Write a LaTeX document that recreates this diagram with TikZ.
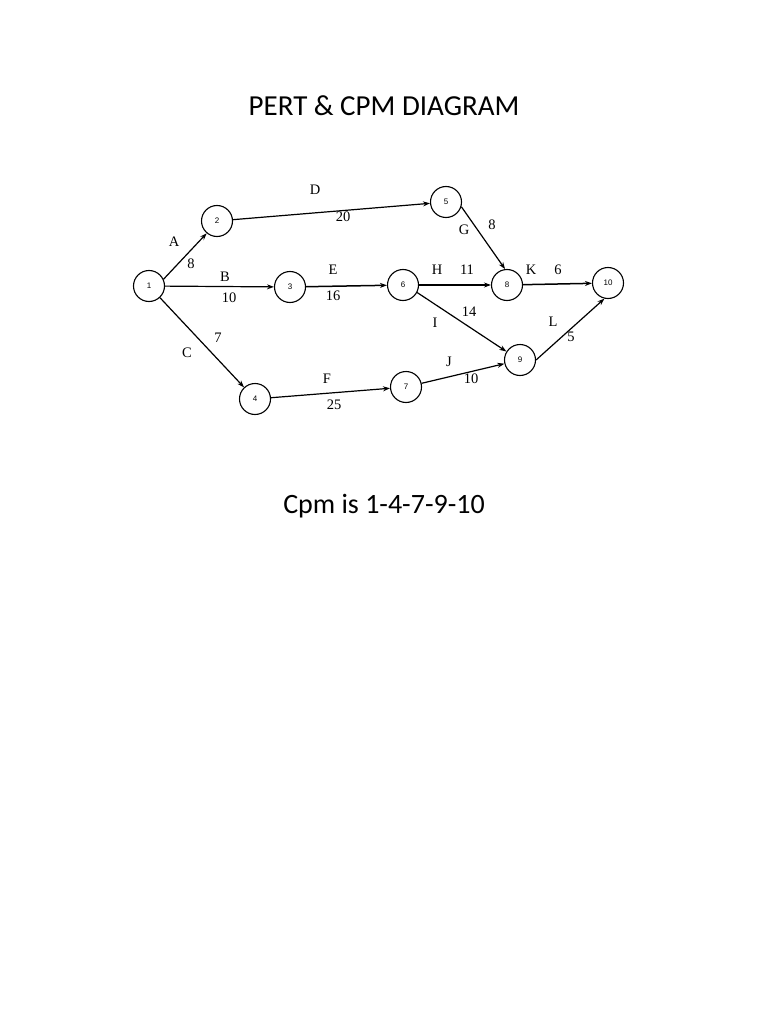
\documentclass[tikz,border=0pt]{standalone}
\usepackage{fontspec}
\setmainfont{Liberation Serif}
\newfontfamily\titlefont{Carlito}
\newfontfamily\numfont{Liberation Sans}
\usetikzlibrary{arrows.meta}
\begin{document}
\begin{tikzpicture}[x=1pt,y=-1pt,
  ev/.style={circle,draw,line width=1.1pt,minimum size=31pt,inner sep=0pt,font=\numfont\fontsize{8}{9}\selectfont},
  act/.style={draw,line width=1.2pt,-{Stealth[length=7pt,width=5pt]}},
  lab/.style={font=\fontsize{14.5}{16}\selectfont,inner sep=0pt}]
\useasboundingbox (0,0) rectangle (768,1024);
\fill[white] (0,0) rectangle (768,1024);
\node[font=\titlefont\fontsize{29}{34}\selectfont] (title) at (384,106) {PERT \& CPM DIAGRAM};
\node[font=\titlefont\fontsize{28}{34}\selectfont] (cpm) at (384,506) {Cpm is 1-4-7-9-10};
\node[ev] (n1) at (149,286) {1};
\node[ev] (n2) at (217,221) {2};
\node[ev] (n3) at (290,287) {3};
\node[ev] (n4) at (255,399) {4};
\node[ev] (n5) at (446,202) {5};
\node[ev] (n6) at (403,285) {6};
\node[ev] (n7) at (406,387) {7};
\node[ev] (n8) at (507,285) {8};
\node[ev] (n9) at (520,360) {9};
\node[ev] (n10) at (608,283) {10};
\draw[act] (n1.25) -- (n2.-130);
\draw[act] (n1) -- (n3);
\draw[act] (n1) -- (n4);
\draw[act] (n2) -- (n5);
\draw[act,line width=1.5pt] (n3) -- (n6);
\draw[act] (n4) -- (n7);
\draw[act] (n5.-17) -- (n8.97);
\draw[act,line width=1.5pt] (n6) -- (n8);
\draw[act] (n6.-28) -- (n9.148);
\draw[act] (n7) -- (n9);
\draw[act,line width=1.5pt] (n8) -- (n10);
\draw[act] (n9.east) -- (n10.-103);
\node[lab] (lA) at (174,242) {A};
\node[lab] (vA) at (191,264) {8};
\node[lab] (lB) at (225,277) {B};
\node[lab] (vB) at (229,298) {10};
\node[lab] (lC) at (187,353) {C};
\node[lab] (vC) at (218,338) {7};
\node[lab] (lD) at (315,190) {D};
\node[lab] (vD) at (343,217) {20};
\node[lab] (lE) at (333,270) {E};
\node[lab] (vE) at (333,296) {16};
\node[lab] (lF) at (327,379) {F};
\node[lab] (vF) at (334,405) {25};
\node[lab] (lG) at (464,230) {G};
\node[lab] (vG) at (492,225) {8};
\node[lab] (lH) at (437,270) {H};
\node[lab] (vH) at (467,270) {11};
\node[lab] (lI) at (435,323) {I};
\node[lab] (vI) at (469,312) {14};
\node[lab] (lJ) at (449,362) {J};
\node[lab] (vJ) at (471,379) {10};
\node[lab] (lK) at (531,270) {K};
\node[lab] (vK) at (558,270) {6};
\node[lab] (lL) at (553,322) {L};
\node[lab] (vL) at (571,337) {5};
\end{tikzpicture}
\end{document}
